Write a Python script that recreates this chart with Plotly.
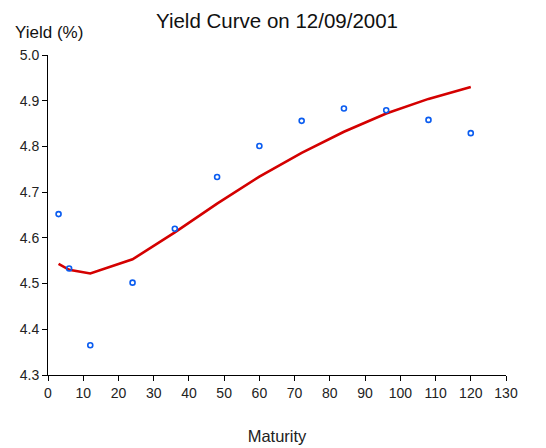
import plotly.graph_objects as go

maturity = [3, 6, 12, 24, 36, 48, 60, 72, 84, 96, 108, 120]
observed_yield = [4.652, 4.533, 4.365, 4.502, 4.620, 4.733, 4.801, 4.856, 4.883, 4.879, 4.858, 4.829]
fitted_yield = [4.543, 4.530, 4.522, 4.553, 4.612, 4.675, 4.734, 4.786, 4.832, 4.872, 4.904, 4.930]

x_ticks = list(range(0, 131, 10))
y_ticks = [4.3, 4.4, 4.5, 4.6, 4.7, 4.8, 4.9, 5.0]

FONT = "Liberation Sans, Arial, sans-serif"

fig = go.Figure()
fig.add_trace(go.Scatter(
    x=maturity, y=fitted_yield, mode="lines",
    line=dict(color="#d40000", width=2.6), showlegend=False))
fig.add_trace(go.Scatter(
    x=maturity, y=observed_yield, mode="markers",
    marker=dict(symbol="circle-open", size=5, color="#0a5cf0", line=dict(width=1.6, color="#0a5cf0")),
    showlegend=False))

fig.update_layout(
    width=546, height=448,
    margin=dict(l=40, r=48, t=47, b=81, autoexpand=False),
    paper_bgcolor="white", plot_bgcolor="white",
    font=dict(family=FONT, color="#222222"),
    title=dict(text="Yield Curve on 12/09/2001", x=0.4927, xanchor="center",
               y=0.971, yanchor="middle", font=dict(size=20.5, color="#111111", family=FONT)),
    xaxis=dict(range=[0, 130], tickvals=x_ticks, ticktext=[str(v) for v in x_ticks],
               showgrid=False, zeroline=False, showline=True, linecolor="black", linewidth=1,
               ticks="outside", ticklen=5, tickcolor="black", tickfont=dict(size=14),
               title=dict(text="Maturity", font=dict(size=16.5), standoff=30)),
    yaxis=dict(range=[4.3, 5.0], tickvals=y_ticks, ticktext=[f"{v:.1f}" for v in y_ticks],
               showgrid=False, zeroline=False, showline=True, linecolor="black", linewidth=1,
               ticks="outside", ticklen=5, tickcolor="black", tickfont=dict(size=14)),
    annotations=[dict(text="Yield (%)", xref="paper", yref="paper",
                      x=-0.0764, y=1.069, xanchor="left", yanchor="middle",
                      showarrow=False, font=dict(size=17, color="#111111"))],
)

fig.write_html("out.html")
